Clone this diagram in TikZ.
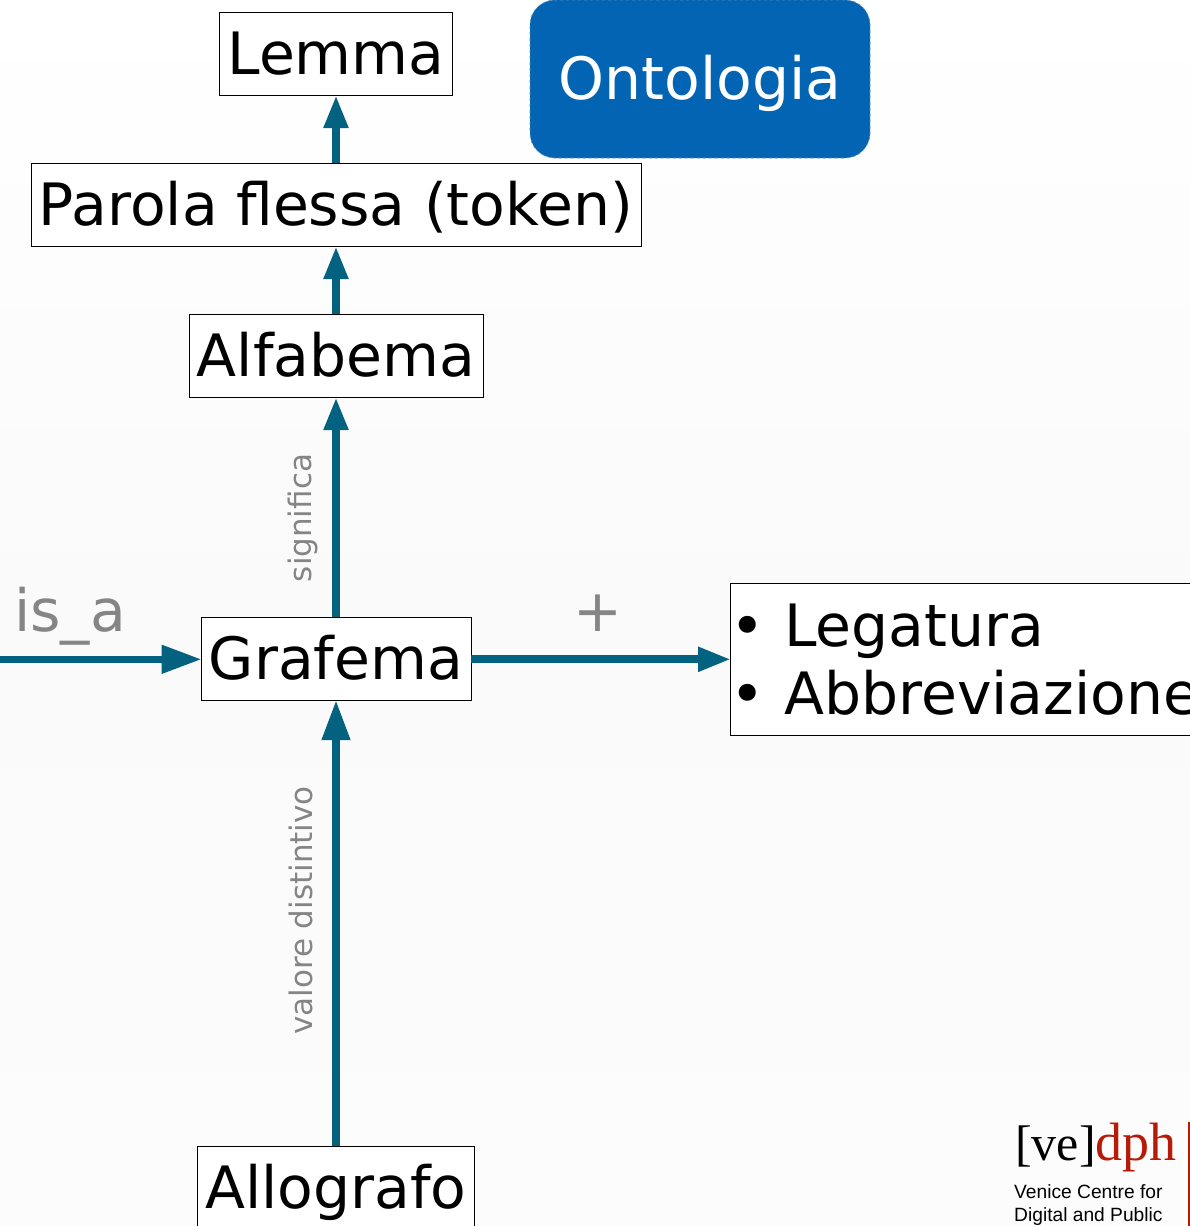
\documentclass[tikz,border=0pt]{standalone}
\usepackage{fontspec}
\setmainfont{DejaVu Sans}
\newfontfamily\logoserif{Liberation Serif}
\newfontfamily\logosans{Liberation Sans}
\usetikzlibrary{arrows.meta}
\definecolor{arrowteal}{HTML}{03627F}
\definecolor{ontoblue}{HTML}{0364B3}
\definecolor{labelgray}{HTML}{858585}
\definecolor{logored}{HTML}{B81A08}
\definecolor{papermid}{HTML}{FAFAFA}
\definecolor{paperlow}{HTML}{FCFCFC}
\tikzset{
    termbox/.style={draw=black, line width=0.7pt, fill=white, inner sep=0pt, font=\fontsize{58.4}{68}\selectfont, text=black},
    relarrow/.style={draw=arrowteal, line width=8pt, shorten >=-1pt, -{Triangle[length=33pt, width=23pt, fill=arrowteal]}},
    bigarrow/.style={draw=arrowteal, line width=7.5pt, shorten >=-1pt, -{Triangle[length=40pt, width=27pt, fill=arrowteal]}},
    rellabel/.style={text=labelgray, inner sep=0pt},
}
\begin{document}
\begin{tikzpicture}[x=1pt, y=-1pt]
    \useasboundingbox (0,0) rectangle (1190,1226);
    \clip (0,0) rectangle (1190,1226);
    \shade[top color=white, bottom color=paperlow, middle color=papermid] (0,0) rectangle (1190,1226);

    % Boxes of the vertical chain
    \foreach \name/\cy/\w/\txt in {lemma/54.3/233/Lemma, parola/205.3/610/Parola flessa (token), alfabema/356.3/294/Alfabema, grafema/659.3/270/Grafema, allografo/1188.3/277/Allografo} {
        \node[termbox, minimum width=\w pt, text height=62pt, text depth=21pt] (\name) at (336,\cy) {\txt};
    }
    \node[termbox, minimum height=152pt, anchor=west, align=left, inner xsep=0pt] (tipi) at (730,659.3) {\textbullet\hspace{19.5pt}Legatura\\\textbullet\hspace{19.5pt}Abbreviazione};
    \node[fill=ontoblue, draw=ontoblue!70!white, dashed, line width=0.7pt, rounded corners=25pt, minimum width=340pt, inner sep=0pt, text height=99pt, text depth=59pt, text=white, font=\fontsize{58.4}{58.4}\selectfont] (onto) at (700,79) {Ontologia};

    % Connect the boxes
    \coordinate (isastart) at (0,659.3);
    \foreach \i/\j in {parola/lemma, alfabema/parola, grafema/alfabema, grafema/tipi} {
        \draw[relarrow] (\i) -- (\j);
    }
    \foreach \i/\j in {allografo/grafema, isastart/grafema} {
        \draw[bigarrow] (\i) -- (\j);
    }

    % Labels on the arrows
    \node[rellabel, font=\fontsize{31}{31}\selectfont, rotate=90] (significa) at (303,518) {significa};
    \node[rellabel, font=\fontsize{31}{31}\selectfont, rotate=90] (valore) at (300.5,910.5) {valore distintivo};
    \node[rellabel, font=\fontsize{58.4}{58.4}\selectfont] (isa) at (70,616) {is\_a};
    \node[rellabel, font=\fontsize{58.4}{58.4}\selectfont] (piu) at (598,613) {+};

    % Logo
    \node[anchor=base west, inner sep=0pt, font=\logoserif\fontsize{50}{50}\selectfont] (vedph) at (1015,1160) {[ve]\textcolor{logored}{\fontsize{54}{54}\selectfont dph}};
    \node[anchor=base west, inner sep=0pt, font=\logosans\fontsize{19.2}{19.2}\selectfont] (venice) at (1014,1198) {Venice Centre for};
    \node[anchor=base west, inner sep=0pt, font=\logosans\fontsize{19.2}{19.2}\selectfont] (digital) at (1014,1221) {Digital and Public};
    \draw[logored, line width=1.2pt] (1189,1122) -- (1189,1226);
\end{tikzpicture}
\end{document}
